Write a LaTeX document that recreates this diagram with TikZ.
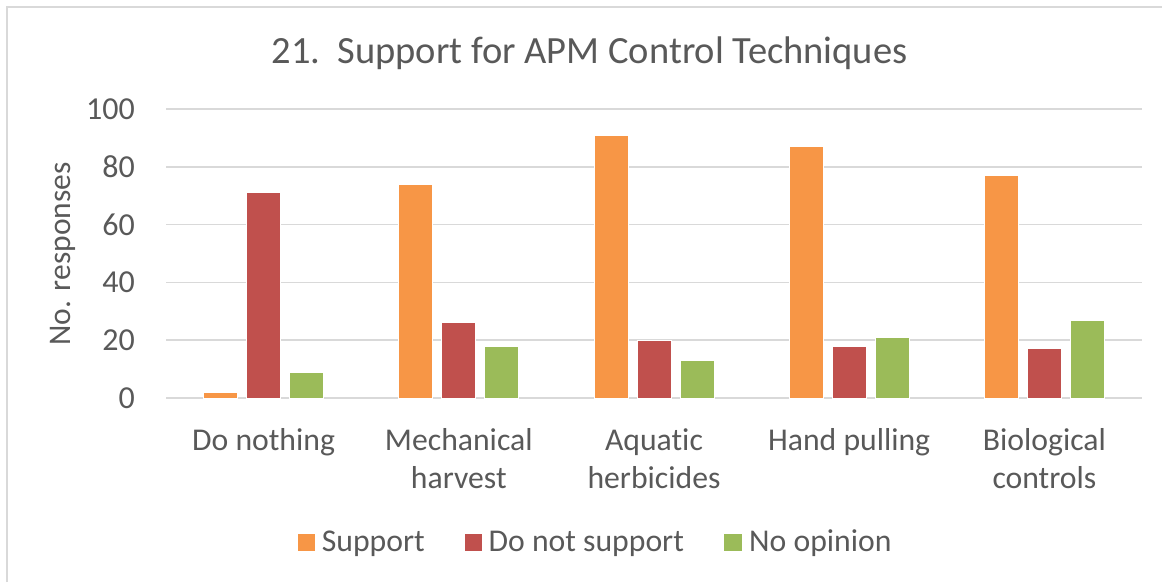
\documentclass[tikz,border=0pt]{standalone}
\usepackage{fontspec}
\setmainfont{Carlito}[Ligatures=CommonOff]
\definecolor{txt}{HTML}{595959}
\definecolor{gridgray}{HTML}{D9D9D9}
\definecolor{supc}{HTML}{F79646}
\definecolor{nsupc}{HTML}{C0504D}
\definecolor{nopc}{HTML}{9BBB59}
\newcommand{\fs}[1]{\fontsize{#1}{#1}\selectfont}
\begin{document}
\begin{tikzpicture}[x=1pt,y=-1pt,
  every node/.style={text=txt, inner sep=0pt},
  bar/.style={draw=white, line width=0.8pt},
  gridline/.style={draw=gridgray, line width=1.6pt},
  ticklabel/.style={anchor=east, font=\fs{32}},
  catlabel/.style={anchor=base, font=\fs{31.7}},
  legkey/.style={anchor=north west, minimum width=17.5pt, minimum height=17.5pt},
  legtext/.style={anchor=base west, font=\fs{31.7}}]
\useasboundingbox (0,0) rectangle (1162,582);
\fill[white] (0,0) rectangle (1162,582);
% chart frame (left and top edges)
\draw[gridgray, line width=2pt] (6.5,582) -- (6.5,6.5) -- (1162,6.5);
% title
\node[anchor=base, font=\fs{38.5}] (title) at (589.5,63) {21.\ \ Support for APM Control Techniques};
% value axis: gridlines and tick labels
\foreach \v in {0,20,...,100} {
  \draw[gridline] (166,{398-2.89*\v}) -- (1142,{398-2.89*\v});
  \node[ticklabel] (tick\v) at (135,{398-2.89*\v}) {\v};
}
\node[rotate=90, font=\fs{31.5}] (ytitle) at (63,254) {No. responses};
% bars: support / do not support / no opinion
\foreach \i/\a/\b/\c in {0/2/71/9, 1/74/26/18, 2/91/20/13, 3/87/18/21, 4/77/17/27} {
  \pgfmathsetmacro\cx{166+195.2*(\i+0.5)}
  \filldraw[bar, fill=supc]  ({\cx-43-17},398) rectangle ({\cx-43+17},{398-2.89*\a});
  \filldraw[bar, fill=nsupc] ({\cx-17},398)    rectangle ({\cx+17},{398-2.89*\b});
  \filldraw[bar, fill=nopc]  ({\cx+43-17},398) rectangle ({\cx+43+17},{398-2.89*\c});
}
% category labels
\node[catlabel] (cat0)  at (263.6,450) {Do nothing};
\node[catlabel] (cat1a) at (458.8,450) {Mechanical};
\node[catlabel] (cat1b) at (458.8,488) {harvest};
\node[catlabel] (cat2a) at (654.0,450) {Aquatic};
\node[catlabel] (cat2b) at (654.0,488) {herbicides};
\node[catlabel] (cat3)  at (849.2,450) {Hand pulling};
\node[catlabel] (cat4a) at (1044.4,450) {Biological};
\node[catlabel] (cat4b) at (1044.4,488) {controls};
% legend
\node[legkey, fill=supc]  (keysup)  at (297.3,533.3) {};
\node[legtext] (labsup)  at (321.7,551) {Support};
\node[legkey, fill=nsupc] (keynsup) at (464.3,533.3) {};
\node[legtext] (labnsup) at (488.5,551) {Do not support};
\node[legkey, fill=nopc]  (keynop)  at (724,533.3) {};
\node[legtext] (labnop)  at (749,551) {No opinion};
\end{tikzpicture}
\end{document}
